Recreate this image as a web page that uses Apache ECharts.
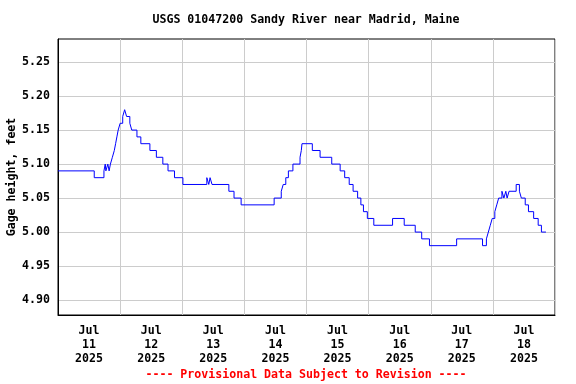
<!DOCTYPE html>
<html>
<head>
<meta charset="utf-8">
<script src="https://cdn.jsdelivr.net/npm/echarts@6/dist/echarts.min.js"></script>
<style>
html,body{margin:0;padding:0;background:#fff;}
#chart{width:576px;height:384px;}
</style>
</head>
<body>
<div id="chart"></div>
<script>
// Hours since Jul 11 2025 00:00 at which the gage height steps to a new value
const hours = [0, 14.0, 17.75, 18.25, 18.5, 19.25, 19.75, 20.25, 21.0, 21.75, 22.25, 22.75, 23.25, 24.0, 25.0, 25.75,
  26.5, 27.75, 28.5, 30.5, 32.0, 35.5, 38.0, 40.5, 42.5, 45.0, 48.25, 57.5, 58.25, 58.75, 59.5, 66.0, 68.0, 70.75,
  83.5, 86.25, 87.0, 88.0, 89.0, 90.75, 93.5, 94.0, 94.25, 98.25, 101.25, 105.75, 109.0, 110.75, 112.5, 114.0,
  115.75, 117.0, 118.0, 119.5, 122.0, 129.25, 133.75, 138.0, 140.5, 143.5, 154.0, 164.0, 165.5, 166.25, 167.0,
  167.75, 168.75, 169.5, 170.25, 171.5, 172.25, 173.0, 173.5, 174.25, 177.0, 178.25, 179.0, 180.5, 181.75, 183.75,
  185.5, 186.75, 187.75, 188.5];
// Gage height, feet
const gage = [5.09, 5.08, 5.09, 5.10, 5.09, 5.10, 5.09, 5.10, 5.11, 5.12, 5.13, 5.14, 5.15, 5.16, 5.17, 5.18,
  5.17, 5.16, 5.15, 5.14, 5.13, 5.12, 5.11, 5.10, 5.09, 5.08, 5.07, 5.08, 5.07, 5.08, 5.07, 5.06, 5.05, 5.04,
  5.05, 5.06, 5.07, 5.08, 5.09, 5.10, 5.11, 5.12, 5.13, 5.12, 5.11, 5.10, 5.09, 5.08, 5.07, 5.06,
  5.05, 5.04, 5.03, 5.02, 5.01, 5.02, 5.01, 5.00, 4.99, 4.98, 4.99, 4.98, 4.99, 5.00, 5.01,
  5.02, 5.03, 5.04, 5.05, 5.06, 5.05, 5.06, 5.05, 5.06, 5.07, 5.06, 5.05, 5.04, 5.03, 5.02,
  5.01, 5.00, 5.00, 5.00];
const dayLabels = ['11', '12', '13', '14', '15', '16', '17', '18'];
const monthLabel = 'Jul';
const yearLabel = '2025';
const yTicks = [4.90, 4.95, 5.00, 5.05, 5.10, 5.15, 5.20, 5.25];
const dayTicks = [0, 24, 48, 72, 96, 120, 144, 168, 192];
const labelPos = [12, 36, 60, 84, 108, 132, 156, 180];

const FONT = '"DejaVu Sans Mono", "Liberation Mono", monospace';
const chart = echarts.init(document.getElementById('chart'), null, {renderer: 'canvas'});
chart.setOption({
  animation: false,
  backgroundColor: '#ffffff',
  grid: {left: 58, right: 21, top: 39, bottom: 69, show: true, borderColor: '#000', borderWidth: 1, containLabel: false},
  xAxis: {
    type: 'value', min: 0, max: 192,
    axisLine: {show: true, lineStyle: {color: '#000', width: 1}},
    axisTick: {show: false, customValues: dayTicks},
    splitLine: {show: true, lineStyle: {color: '#cccccc', width: 1}},
    axisLabel: {
      customValues: labelPos,
      margin: 9,
      fontFamily: FONT, fontWeight: 'bold', fontSize: 11.6, color: '#000', lineHeight: 14,
      formatter: function (v) {
        const i = labelPos.indexOf(v);
        return i < 0 ? '' : monthLabel + '\n' + dayLabels[i] + '\n' + yearLabel;
      }
    }
  },
  yAxis: {
    type: 'value', min: 4.878, max: 5.284,
    axisLine: {show: true, lineStyle: {color: '#000', width: 1}},
    axisTick: {show: false, customValues: yTicks},
    splitLine: {show: true, lineStyle: {color: '#cccccc', width: 1}},
    axisLabel: {
      customValues: yTicks,
      margin: 8,
      fontFamily: FONT, fontWeight: 'bold', fontSize: 11.6, color: '#000',
      formatter: function (v) { return v.toFixed(2); }
    }
  },
  series: [{
    type: 'line',
    step: 'end',
    showSymbol: false,
    data: hours.map((h, i) => [h, gage[i]]),
    lineStyle: {color: '#0000ff', width: 1},
    itemStyle: {color: '#0000ff'}
  }],
  graphic: [
    {type: 'text', x: 306, y: 20, style: {text: 'USGS 01047200 Sandy River near Madrid, Maine', x: 0, y: 0,
      align: 'center', verticalAlign: 'middle', font: 'bold 11.6px ' + FONT, fill: '#000'}},
    {type: 'text', x: 12, y: 177, rotation: Math.PI / 2, style: {text: 'Gage height, feet', x: 0, y: 0,
      align: 'center', verticalAlign: 'middle', font: 'bold 11.6px ' + FONT, fill: '#000'}},
    {type: 'text', x: 306, y: 375, style: {text: '---- Provisional Data Subject to Revision ----', x: 0, y: 0,
      align: 'center', verticalAlign: 'middle', font: 'bold 11.6px ' + FONT, fill: '#ff0000'}}
  ]
});
</script>
</body>
</html>
